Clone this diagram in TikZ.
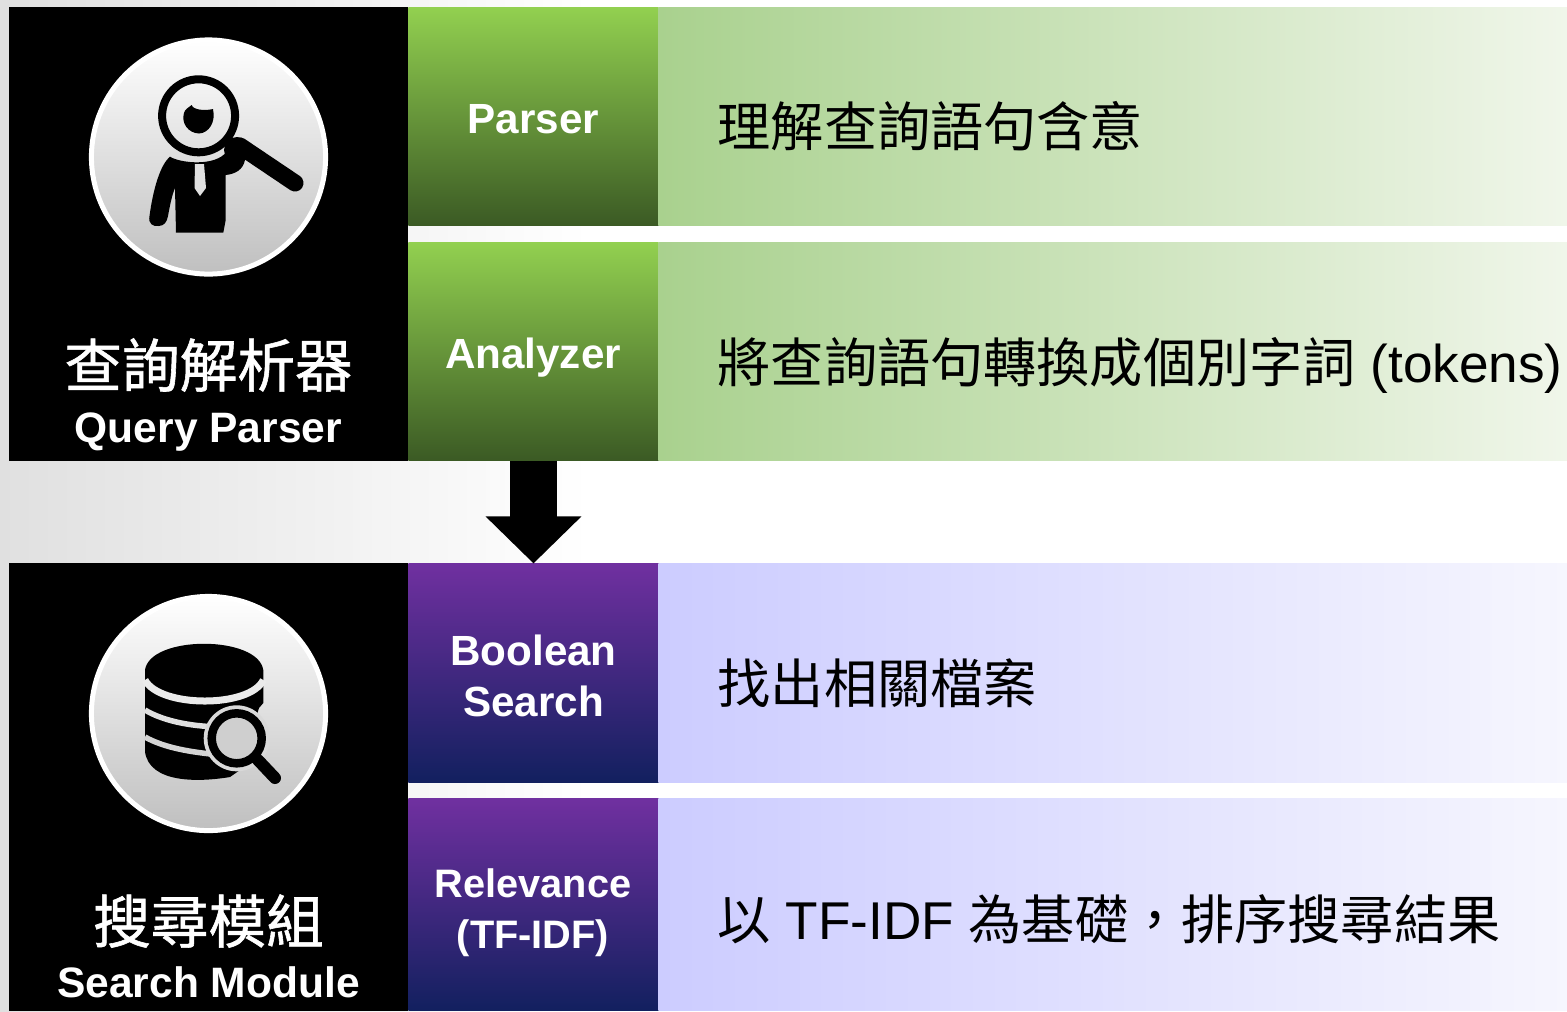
\documentclass[tikz,border=0pt]{standalone}
\usepackage{fontspec}
\usepackage{xcolor}
\usetikzlibrary{arrows.meta}
\setmainfont{Liberation Sans}
\newfontfamily\cjk{Noto Sans CJK TC}
\newfontfamily\cjktitle[FakeBold=1]{Noto Sans CJK TC}
\definecolor{greentop}{HTML}{92D050}
\definecolor{greenbot}{HTML}{3B5A24}
\definecolor{purpletop}{HTML}{7030A0}
\definecolor{purplebot}{HTML}{12205F}
\definecolor{greenleft}{HTML}{A9D18E}
\definecolor{greenright}{HTML}{F0F6EA}
\definecolor{blueleft}{HTML}{CCCCFF}
\definecolor{blueright}{HTML}{F6F6FE}
\definecolor{bggray}{HTML}{E0E0E0}
\tikzset{
  block/.style={inner sep=0pt,outer sep=0pt,rectangle},
  blackbox/.style={block,fill=black,minimum width=3.99cm},
  greenbox/.style={block,top color=greentop,bottom color=greenbot,minimum width=2.5cm},
  purplebox/.style={block,top color=purpletop,bottom color=purplebot,minimum width=2.5cm},
  greenband/.style={block,left color=greenleft,right color=greenright,minimum width=9.08cm},
  blueband/.style={block,left color=blueleft,right color=blueright,minimum width=9.08cm},
  iconback/.style={circle,inner sep=0pt,minimum size=2.34cm,draw=white,line width=0.05cm,top color=white,bottom color=black!25},
  bigtitle/.style={inner sep=0pt,anchor=base,text=white,font=\cjktitle\fontsize{16.4}{20}\selectfont},
  smalltitle/.style={inner sep=0pt,anchor=base,text=white,font=\bfseries\fontsize{12.1}{15}\selectfont},
  boxlabel/.style={inner sep=0pt,anchor=base,text=white,font=\bfseries\fontsize{12}{15}\selectfont},
  relabel/.style={inner sep=0pt,anchor=base,text=white,font=\bfseries\fontsize{11.3}{14}\selectfont},
  bandtext/.style={inner sep=0pt,anchor=base west,text=black,font=\fontsize{15.12}{18}\selectfont},
}
\begin{document}
\begin{tikzpicture}[x=0.01cm,y=-0.01cm]
\useasboundingbox (0,0) rectangle (1567,1011);
\fill[white] (0,0) rectangle (1567,1011);
\shade[left color=bggray,right color=white] (0,0) rectangle (590,1011);
% left black panels
\draw (208.5,234) node[blackbox,minimum height=4.54cm](qpanel) {};
\draw (208.5,787) node[blackbox,minimum height=4.48cm](spanel) {};
% rows of the query parser
\draw (533.5,116.5) node[greenbox,minimum height=2.18cm](parser) {};
\draw (533.5,351.5) node[greenbox,minimum height=2.18cm](analyzer) {};
\draw (1113,116.5) node[greenband,minimum height=2.18cm](parserband) {};
\draw (1113,351.5) node[greenband,minimum height=2.18cm](analyzerband) {};
% rows of the search module
\draw (533.5,673) node[purplebox,minimum height=2.19cm](boolean) {};
\draw (533.5,904.5) node[purplebox,minimum height=2.12cm](relevance) {};
\draw (1113,673) node[blueband,minimum height=2.19cm](booleanband) {};
\draw (1113,904.5) node[blueband,minimum height=2.12cm](relevanceband) {};
% arrow
\draw[line width=0.47cm,-{Triangle[length=0.47cm,width=0.93cm]}] (analyzer.south) -- (boolean.north);
% icon circles
\draw (208.5,157) node[iconback](qicon) {};
\draw (208.5,713.5) node[iconback](sicon) {};
% man with the magnifier
\fill[black] (170,156.7) .. controls (160,165) and (153,190) .. (149.5,216)
  .. controls (148,224) and (153,226.5) .. (158.5,226)
  .. controls (164,226) and (167,222) .. (168,216)
  .. controls (170,205) and (172,195) .. (175,188)
  -- (176,232.7) -- (223.3,232.7) -- (225.7,220) -- (225.7,175)
  .. controls (235,174) and (243,170) .. (245,160)
  -- (226.7,151.7) .. controls (215,167) and (180,163) .. (170,156.7) -- cycle;
\fill[black] (237,150) circle (13);
\fill[black!12] (195,164) -- (204,164) -- (206,188) -- (200,196) -- (194.5,188) -- cycle;
\draw[line width=0.08cm] (198.6,115.8) circle (36.5);
\fill[black] (191.7,105) .. controls (193,110) and (205,111) .. (213,109)
  .. controls (216,122) and (209,133) .. (199,133.5)
  .. controls (188,133) and (181,123) .. (184,113)
  .. controls (185,109) and (188,108) .. (191.7,105) -- cycle;
\draw[line width=0.17cm,line cap=round] (240,146) -- (295,183);
% database with the magnifier
\fill[black] (145,670) .. controls (150,635) and (258,635) .. (263.3,670)
  -- (263.3,703) -- (259,708) -- (240,770) -- (230,777)
  .. controls (200,782) and (150,784) .. (145,752) -- cycle;
\draw[black!8,line width=0.07cm] (145,680) .. controls (160,708) and (250,708) .. (263.3,680);
\draw[black!12,line width=0.055cm] (145,710) .. controls (165,722) and (195,727) .. (225,727);
\draw[black!17,line width=0.055cm] (145,737) .. controls (165,748) and (190,752) .. (220,755);
\fill[black!15] (236.7,738.3) circle (33);
\draw[line width=0.085cm,fill=black!19] (236.7,738.3) circle (25);
\draw[line width=0.12cm,line cap=round] (258,760) -- (275,778);
% texts of the left panels
\draw (208.5,387) node[bigtitle](qtitle) {查詢解析器};
\draw (208.5,442) node[smalltitle](qsub) {Query Parser};
\draw (208.5,943) node[bigtitle](stitle) {搜尋模組};
\draw (208.5,997) node[smalltitle](ssub) {Search Module};
% labels of the coloured boxes
\draw (533.5,133) node[boxlabel](parserlabel) {Parser};
\draw (533,368) node[boxlabel](analyzerlabel) {Analyzer};
\draw (533.5,665) node[boxlabel](booleanlabel) {Boolean};
\draw (533.5,716) node[boxlabel](searchlabel) {Search};
\draw (533,897) node[relabel](relevancelabel) {Relevance};
\draw (533,948) node[relabel](tfidflabel) {(TF-IDF)};
% texts of the bands
\draw (717,146) node[bandtext](parsertext) {{\cjk 理解查詢語句含意}};
\draw (717,382) node[bandtext](analyzertext) {{\cjk 將查詢語句轉換成個別字詞} (tokens)};
\draw (717,703) node[bandtext](booleantext) {{\cjk 找出相關檔案}};
\draw (717,939) node[bandtext](relevancetext) {{\cjk 以} TF-IDF {\cjk 為基礎，排序搜尋結果}};
\end{tikzpicture}
\end{document}
